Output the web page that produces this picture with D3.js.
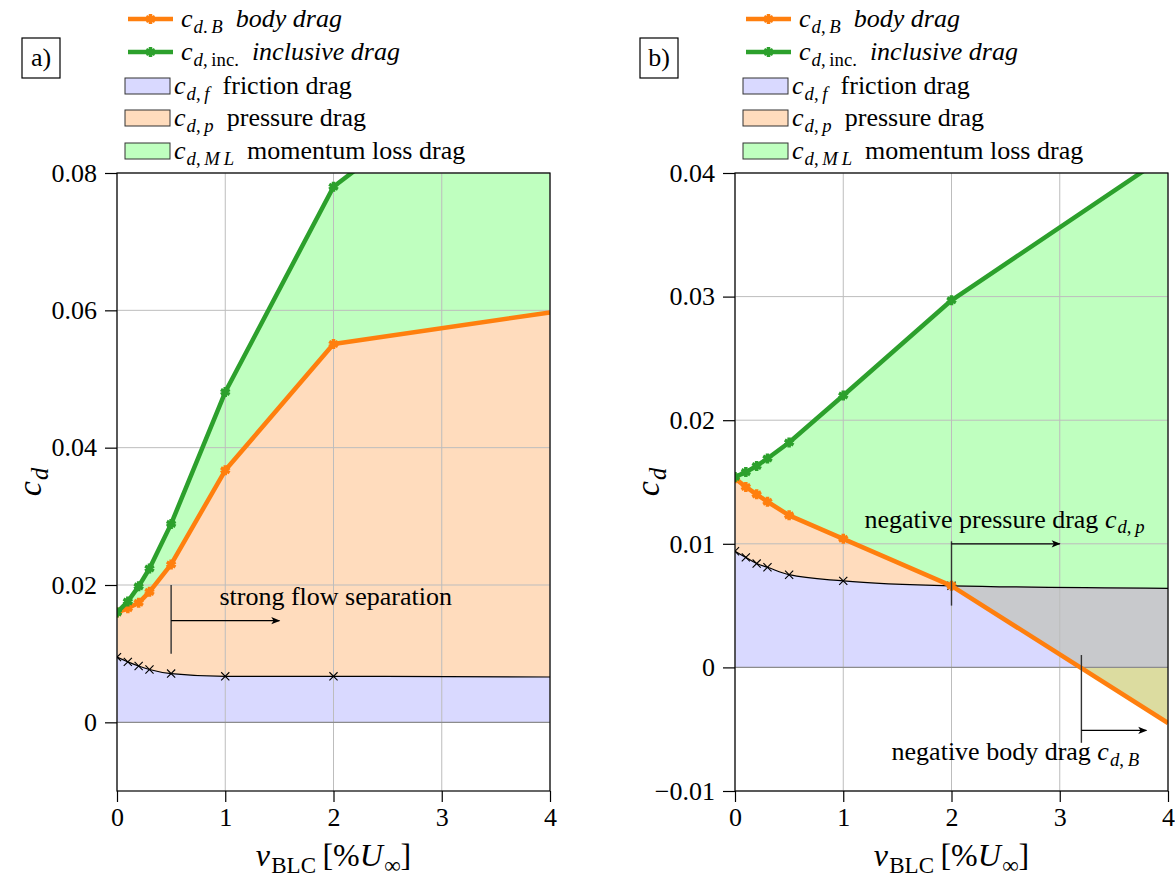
<!DOCTYPE html>
<html>
<head>
<meta charset="utf-8">
<script src="https://cdn.jsdelivr.net/npm/d3@7"></script>
<style>
  body { margin: 0; background: #fff; }
  svg, svg text { font-family: "Liberation Serif", "DejaVu Serif", serif; white-space: pre; }
</style>
</head>
<body>
<div id="chart"></div>
<script>
var W = 1175, H = 879;
var FONT = "'Liberation Serif', 'DejaVu Serif', serif";

// suction velocity in % of free stream
var vBLC = [0, 0.1, 0.2, 0.3, 0.5, 1, 2, 4];
var xTicks = [0, 1, 2, 3, 4];
var xTickLabels = ["0", "1", "2", "3", "4"];

// panel a)
var frictionA  = [0.0095, 0.0088, 0.0082, 0.0077, 0.0071, 0.0067, 0.0067, 0.0066];
var bodyA      = [0.0160, 0.0166, 0.0174, 0.0190, 0.0230, 0.0367, 0.0551, 0.0597];
var inclusiveA = [0.0160, 0.0176, 0.0198, 0.0224, 0.0289, 0.0481, 0.0780, 0.1020];
var yTicksA = [0, 0.02, 0.04, 0.06, 0.08];
var yTickLabelsA = ["0", "0.02", "0.04", "0.06", "0.08"];

// panel b)
var frictionB  = [0.0094, 0.0089, 0.0084, 0.0081, 0.0075, 0.0070, 0.0066, 0.0064];
var bodyB      = [0.0153, 0.0146, 0.0140, 0.0134, 0.0123, 0.0104, 0.0066, -0.0045];
var inclusiveB = [0.0154, 0.0158, 0.0163, 0.0169, 0.0182, 0.0220, 0.0297, 0.0415];
var yTicksB = [-0.01, 0, 0.01, 0.02, 0.03, 0.04];
var yTickLabelsB = ["\u22120.01", "0", "0.01", "0.02", "0.03", "0.04"];

var cOrange = "#ff7f0e", cGreen = "#2ca02c";
var cFric = "#d9d9ff", cPres = "#ffdcbd", cML = "#bfffbf", cGrey = "#c8c9cc", cOlive = "#dcdca0";

var plotTop = 173, plotBottom = 791, plotW = 433;
var fs = 26;

var svg = d3.select("#chart").append("svg")
    .attr("width", W)
    .attr("height", H)
    .attr("font-family", FONT);

var defs = svg.append("defs");
defs.append("marker")
    .attr("id", "arr")
    .attr("viewBox", "0 0 10 10")
    .attr("refX", 9).attr("refY", 5)
    .attr("markerWidth", 11).attr("markerHeight", 9)
    .attr("markerUnits", "userSpaceOnUse")
    .attr("orient", "auto")
    .append("path")
    .attr("d", "M0,1 L10,5 L0,9 L2.5,5 Z")
    .attr("fill", "#000");

// text with italic / subscript parts
function rich(sel, parts, size) {
    var shifted = false;
    parts.forEach(function(p) {
        var t = sel.append("tspan").text(p.t);
        if (p.i) t.attr("font-style", "italic");
        if (p.s) {
            t.attr("font-size", size * 0.72);
            if (!shifted) { t.attr("dy", size * 0.22).attr("dx", size * 0.04); shifted = true; }
        } else if (shifted) {
            t.attr("dy", -size * 0.22);
            shifted = false;
        }
    });
    return sel;
}

function drawPanel(o) {
    var g = svg.append("g");
    var x = d3.scaleLinear().domain([0, 4]).range([o.left, o.left + plotW]);
    var y = d3.scaleLinear().domain(o.yDomain).range([plotBottom, plotTop]);

    var rows = vBLC.map(function(v, i) {
        return { v: v, f: o.friction[i], b: o.body[i], inc: o.inclusive[i] };
    });

    var cid = "clip" + o.name;
    defs.append("clipPath").attr("id", cid).append("rect")
        .attr("x", o.left).attr("y", plotTop)
        .attr("width", plotW).attr("height", plotBottom - plotTop);
    defs.append("clipPath").attr("id", cid + "up").append("rect")
        .attr("x", o.left).attr("y", plotTop)
        .attr("width", plotW).attr("height", y(0) - plotTop);
    defs.append("clipPath").attr("id", cid + "dn").append("rect")
        .attr("x", o.left).attr("y", y(0))
        .attr("width", plotW).attr("height", plotBottom - y(0));

    var fills = g.append("g").attr("clip-path", "url(#" + cid + ")");

    // momentum loss: body -> inclusive
    fills.append("path").datum(rows)
        .attr("d", d3.area().x(function(d) { return x(d.v); })
            .y0(function(d) { return y(d.b); })
            .y1(function(d) { return y(d.inc); }))
        .attr("fill", cML);

    // pressure: 0 -> max(body, friction), friction part covered below
    fills.append("path").datum(rows)
        .attr("d", d3.area().x(function(d) { return x(d.v); })
            .y0(y(0))
            .y1(function(d) { return y(Math.max(d.b, d.f)); }))
        .attr("fill", cPres);

    // friction: 0 -> friction
    fills.append("path").datum(rows)
        .attr("d", d3.area().curve(d3.curveMonotoneX).x(function(d) { return x(d.v); })
            .y0(y(0))
            .y1(function(d) { return y(d.f); }))
        .attr("fill", cFric);

    // negative pressure drag: friction -> body where body below friction
    fills.append("path").datum(rows)
        .attr("clip-path", "url(#" + cid + "up)")
        .attr("d", d3.area().x(function(d) { return x(d.v); })
            .y0(function(d) { return y(d.f); })
            .y1(function(d) { return y(Math.min(d.b, d.f)); }))
        .attr("fill", cGrey);

    // negative body drag
    fills.append("path").datum(rows)
        .attr("clip-path", "url(#" + cid + "dn)")
        .attr("d", d3.area().x(function(d) { return x(d.v); })
            .y0(y(0))
            .y1(function(d) { return y(d.b); }))
        .attr("fill", cOlive);

    // grid
    g.append("g").selectAll("line.gx").data(xTicks).enter().append("line")
        .attr("x1", function(d) { return x(d); }).attr("x2", function(d) { return x(d); })
        .attr("y1", plotTop).attr("y2", plotBottom)
        .attr("stroke", "#bdbdbd").attr("stroke-width", 1);
    g.append("g").selectAll("line.gy").data(o.yTicks).enter().append("line")
        .attr("x1", o.left).attr("x2", o.left + plotW)
        .attr("y1", function(d) { return y(d); }).attr("y2", function(d) { return y(d); })
        .attr("stroke", function(d) { return d === 0 ? "#8c8c8c" : "#bdbdbd"; })
        .attr("stroke-width", function(d) { return d === 0 ? 1.3 : 1; });

    var marks = rows.filter(function(d) { return d.v < 4; });
    var lines = g.append("g").attr("clip-path", "url(#" + cid + ")");

    // friction curve
    lines.append("path").datum(rows)
        .attr("d", d3.line().curve(d3.curveMonotoneX)
            .x(function(d) { return x(d.v); }).y(function(d) { return y(d.f); }))
        .attr("fill", "none").attr("stroke", "#000").attr("stroke-width", 1.2);
    lines.selectAll("path.fm").data(marks).enter().append("path")
        .attr("transform", function(d) { return "translate(" + x(d.v) + "," + y(d.f) + ")"; })
        .attr("d", d3.symbol().type(d3.symbolTimes || d3.symbolCross).size(45))
        .attr("fill", "none").attr("stroke", "#000").attr("stroke-width", 1.1);

    // annotations
    o.notes(g, x, y);

    // body and inclusive lines
    [["b", cOrange], ["inc", cGreen]].forEach(function(s) {
        var k = s[0], col = s[1];
        lines.append("path").datum(rows)
            .attr("d", d3.line().x(function(d) { return x(d.v); }).y(function(d) { return y(d[k]); }))
            .attr("fill", "none").attr("stroke", col).attr("stroke-width", 4.5)
            .attr("stroke-linejoin", "round");
        lines.selectAll("path.m" + k).data(marks).enter().append("path")
            .attr("transform", function(d) { return "translate(" + x(d.v) + "," + y(d[k]) + ")"; })
            .attr("d", d3.symbol().type(d3.symbolAsterisk).size(70))
            .attr("fill", col).attr("stroke", col).attr("stroke-width", 3.5);
    });

    // frame
    g.append("rect")
        .attr("x", o.left).attr("y", plotTop)
        .attr("width", plotW).attr("height", plotBottom - plotTop)
        .attr("fill", "none").attr("stroke", "#000").attr("stroke-width", 1.2);

    // axes
    var ax = g.append("g").attr("transform", "translate(0," + plotBottom + ")")
        .call(d3.axisBottom(x).tickValues(xTicks)
            .tickFormat(function(d, i) { return xTickLabels[i]; })
            .tickSize(11).tickPadding(6));
    var ay = g.append("g").attr("transform", "translate(" + o.left + ",0)")
        .call(d3.axisLeft(y).tickValues(o.yTicks)
            .tickFormat(function(d, i) { return o.yTickLabels[i]; })
            .tickSize(12).tickPadding(8));
    [ax, ay].forEach(function(a) {
        a.select(".domain").remove();
        a.attr("font-family", FONT).attr("font-size", fs);
        a.selectAll("line").attr("stroke-width", 1.2);
        a.selectAll("text").attr("fill", "#000");
    });

    // axis titles
    var xl = g.append("text")
        .attr("x", o.left + plotW / 2).attr("y", 866)
        .attr("text-anchor", "middle").attr("font-size", 32);
    rich(xl, [{ t: "v", i: 1 }, { t: "BLC", s: 1 }, { t: "\u2009[" }, { t: "%" }, { t: "U", i: 1 }, { t: "\u221e", s: 1 }, { t: "]" }], 32);

    var yl = g.append("text")
        .attr("transform", "translate(" + (o.left - 76) + "," + ((plotTop + plotBottom) / 2) + ") rotate(-90)")
        .attr("text-anchor", "middle").attr("font-size", 34);
    rich(yl, [{ t: "c", i: 1 }, { t: "d", i: 1, s: 1 }], 34);

    // panel tag
    g.append("rect")
        .attr("x", o.left - 95).attr("y", 38).attr("width", 38).attr("height", 40)
        .attr("fill", "#fff").attr("stroke", "#000").attr("stroke-width", 1.2);
    g.append("text")
        .attr("x", o.left - 76).attr("y", 66)
        .attr("text-anchor", "middle").attr("font-size", fs)
        .text(o.name + ")");

    // legend
    var leg = g.append("g").attr("transform", "translate(" + o.left + ",0)");
    o.legend.forEach(function(e, i) {
        var cy = [19, 52, 86, 118, 151][i];
        if (e.kind === "line") {
            leg.append("line")
                .attr("x1", 11).attr("x2", 56).attr("y1", cy).attr("y2", cy)
                .attr("stroke", e.color).attr("stroke-width", 4.5);
            leg.append("path")
                .attr("transform", "translate(33.5," + cy + ")")
                .attr("d", d3.symbol().type(d3.symbolAsterisk).size(70))
                .attr("fill", e.color).attr("stroke", e.color).attr("stroke-width", 3.5);
            rich(leg.append("text").attr("x", 64).attr("y", cy + 8).attr("font-size", fs), e.label, fs);
        } else {
            leg.append("rect")
                .attr("x", 8).attr("y", cy - 8).attr("width", 45).attr("height", 16)
                .attr("fill", e.color).attr("stroke", "#333").attr("stroke-width", 1);
            rich(leg.append("text").attr("x", 57).attr("y", cy + 8).attr("font-size", fs), e.label, fs);
        }
    });
}

function legendFor(sep) {
    return [
        { kind: "line", color: cOrange, label: [{ t: "c", i: 1 }, { t: "d", i: 1, s: 1 }, { t: sep + "\u2009", s: 1 }, { t: "B", i: 1, s: 1 }, { t: "  body drag", i: 1 }] },
        { kind: "line", color: cGreen, label: [{ t: "c", i: 1 }, { t: "d", i: 1, s: 1 }, { t: ",\u2009inc.", s: 1 }, { t: "  inclusive drag", i: 1 }] },
        { kind: "area", color: cFric, label: [{ t: "c", i: 1 }, { t: "d", i: 1, s: 1 }, { t: ",\u2009", s: 1 }, { t: "f", i: 1, s: 1 }, { t: "  friction drag" }] },
        { kind: "area", color: cPres, label: [{ t: "c", i: 1 }, { t: "d", i: 1, s: 1 }, { t: ",\u2009", s: 1 }, { t: "p", i: 1, s: 1 }, { t: "  pressure drag" }] },
        { kind: "area", color: cML, label: [{ t: "c", i: 1 }, { t: "d", i: 1, s: 1 }, { t: ",\u2009", s: 1 }, { t: "M\u2009L", i: 1, s: 1 }, { t: "  momentum loss drag" }] }
    ];
}

function vline(g, x, y, xv, y0, y1) {
    g.append("line")
        .attr("x1", x(xv)).attr("x2", x(xv)).attr("y1", y(y0)).attr("y2", y(y1))
        .attr("stroke", "#333").attr("stroke-width", 1.4);
}
function arrow(g, x, y, x0, x1, yv) {
    g.append("line")
        .attr("x1", x(x0)).attr("x2", x(x1)).attr("y1", y(yv)).attr("y2", y(yv))
        .attr("stroke", "#000").attr("stroke-width", 1.2)
        .attr("marker-end", "url(#arr)");
}

drawPanel({
    name: "a", left: 117, yDomain: [-0.01, 0.08],
    friction: frictionA, body: bodyA, inclusive: inclusiveA,
    yTicks: yTicksA, yTickLabels: yTickLabelsA,
    legend: legendFor("."),
    notes: function(g, x, y) {
        vline(g, x, y, 0.5, 0.0100, 0.0200);
        arrow(g, x, y, 0.5, 1.5, 0.0148);
        g.append("text").attr("x", x(2.02)).attr("y", y(0.0171))
            .attr("text-anchor", "middle").attr("font-size", fs)
            .text("strong flow separation");
    }
});

drawPanel({
    name: "b", left: 735, yDomain: [-0.01, 0.04],
    friction: frictionB, body: bodyB, inclusive: inclusiveB,
    yTicks: yTicksB, yTickLabels: yTickLabelsB,
    legend: legendFor(","),
    notes: function(g, x, y) {
        vline(g, x, y, 2, 0.0050, 0.0102);
        arrow(g, x, y, 2, 3, 0.0100);
        rich(g.append("text").attr("x", x(2.49)).attr("y", y(0.0113))
            .attr("text-anchor", "middle").attr("font-size", fs),
            [{ t: "negative pressure drag " }, { t: "c", i: 1 }, { t: "d", i: 1, s: 1 }, { t: ",\u2009", s: 1 }, { t: "p", i: 1, s: 1 }], fs);
        vline(g, x, y, 3.2, -0.0061, 0.0010);
        arrow(g, x, y, 3.2, 3.8, -0.0051);
        rich(g.append("text").attr("x", x(2.59)).attr("y", y(-0.0075))
            .attr("text-anchor", "middle").attr("font-size", fs),
            [{ t: "negative body drag " }, { t: "c", i: 1 }, { t: "d", i: 1, s: 1 }, { t: ",\u2009", s: 1 }, { t: "B", i: 1, s: 1 }], fs);
    }
});
</script>
</body>
</html>
